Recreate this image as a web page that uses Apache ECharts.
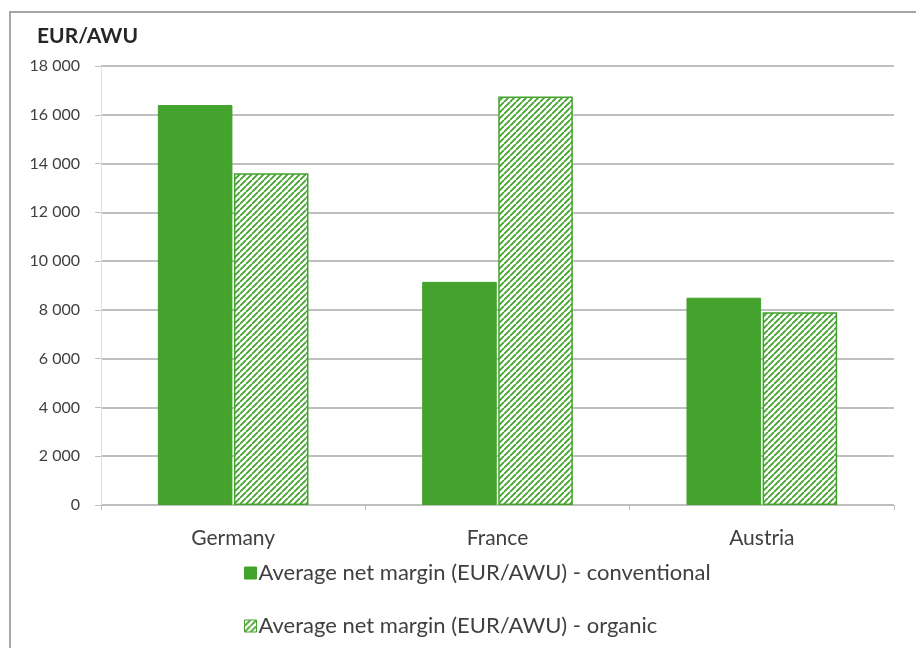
<!DOCTYPE html>
<html>
<head>
<meta charset="utf-8">
<script src="https://cdn.jsdelivr.net/npm/echarts@6/dist/echarts.min.js"></script>
<style>
  html, body { margin: 0; padding: 0; background: #fff; }
  #chart { width: 916px; height: 648px; }
</style>
</head>
<body>
<div id="chart"></div>
<script>
// Countries on the category axis
const countries = ['Germany', 'France', 'Austria'];
// Average net margin per annual work unit (EUR/AWU)
const conventional = [16400, 9150, 8500];
const organic = [13600, 16750, 7900];
// Series names shown in the legend
const seriesNames = [
  'Average net margin (EUR/AWU) - conventional',
  'Average net margin (EUR/AWU) - organic'
];

const GREEN = '#43a32d';
const FONT = 'Lato';

// Diagonal hatch tile for the organic series
function hatchPattern() {
  const s = 6;
  const c = document.createElement('canvas');
  c.width = s; c.height = s;
  const g = c.getContext('2d');
  g.fillStyle = '#ffffff';
  g.fillRect(0, 0, s, s);
  g.strokeStyle = GREEN;
  g.lineWidth = 1.8;
  g.beginPath();
  for (let k = -1; k <= 1; k++) {
    g.moveTo(k * s, s);
    g.lineTo(k * s + s, 0);
  }
  g.stroke();
  return c;
}

const chart = echarts.init(document.getElementById('chart'), null, { renderer: 'canvas' });

function fmt(v) {
  return String(v).replace(/\B(?=(\d{3})+(?!\d))/g, ' ');
}

chart.setOption({
  animation: false,
  backgroundColor: '#ffffff',
  graphic: [{
    type: 'rect',
    shape: { x: 10, y: 12, width: 930, height: 660 },
    style: { fill: 'none', stroke: '#a6a6a6', lineWidth: 2 },
    silent: true
  }, {
    type: 'text',
    left: 37, top: 26,
    style: { text: 'EUR/AWU', font: 'bold 21px ' + FONT, fill: '#262626' }
  }],
  grid: { left: 101, right: 22, top: 66, bottom: 143 },
  legend: {
    orient: 'vertical',
    left: 239, top: 557,
    icon: 'rect',
    itemWidth: 12, itemHeight: 12,
    itemGap: 31,
    itemStyle: { borderWidth: 1 },
    textStyle: { fontFamily: FONT, fontSize: 22, color: '#404040', padding: [0, 0, 0, -3] },
    data: seriesNames
  },
  xAxis: {
    type: 'category',
    data: countries,
    axisLine: { lineStyle: { color: '#bfbfbf', width: 1 } },
    axisTick: { show: true, length: 5, lineStyle: { color: '#bfbfbf' } },
    axisLabel: { fontFamily: FONT, fontSize: 21, color: '#404040', margin: 23 }
  },
  yAxis: {
    type: 'value',
    min: 0, max: 18000, interval: 2000,
    axisLine: { show: true, lineStyle: { color: '#e0e0e0', width: 1 } },
    axisTick: { show: true, length: 6, inside: false, lineStyle: { color: '#bfbfbf' } },
    splitLine: { lineStyle: { color: '#bfbfbf', width: 2 } },
    axisLabel: {
      fontFamily: FONT, fontSize: 16, color: '#404040', margin: 21,
      formatter: fmt
    }
  },
  series: [{
    name: seriesNames[0],
    type: 'bar',
    data: conventional,
    barGap: '2%',
    barCategoryGap: '43%',
    itemStyle: { color: GREEN, borderColor: GREEN, borderWidth: 1 }
  }, {
    name: seriesNames[1],
    type: 'bar',
    data: organic,
    itemStyle: {
      color: { image: hatchPattern(), repeat: 'repeat' },
      borderColor: GREEN, borderWidth: 1.5
    }
  }]
});
</script>
</body>
</html>
